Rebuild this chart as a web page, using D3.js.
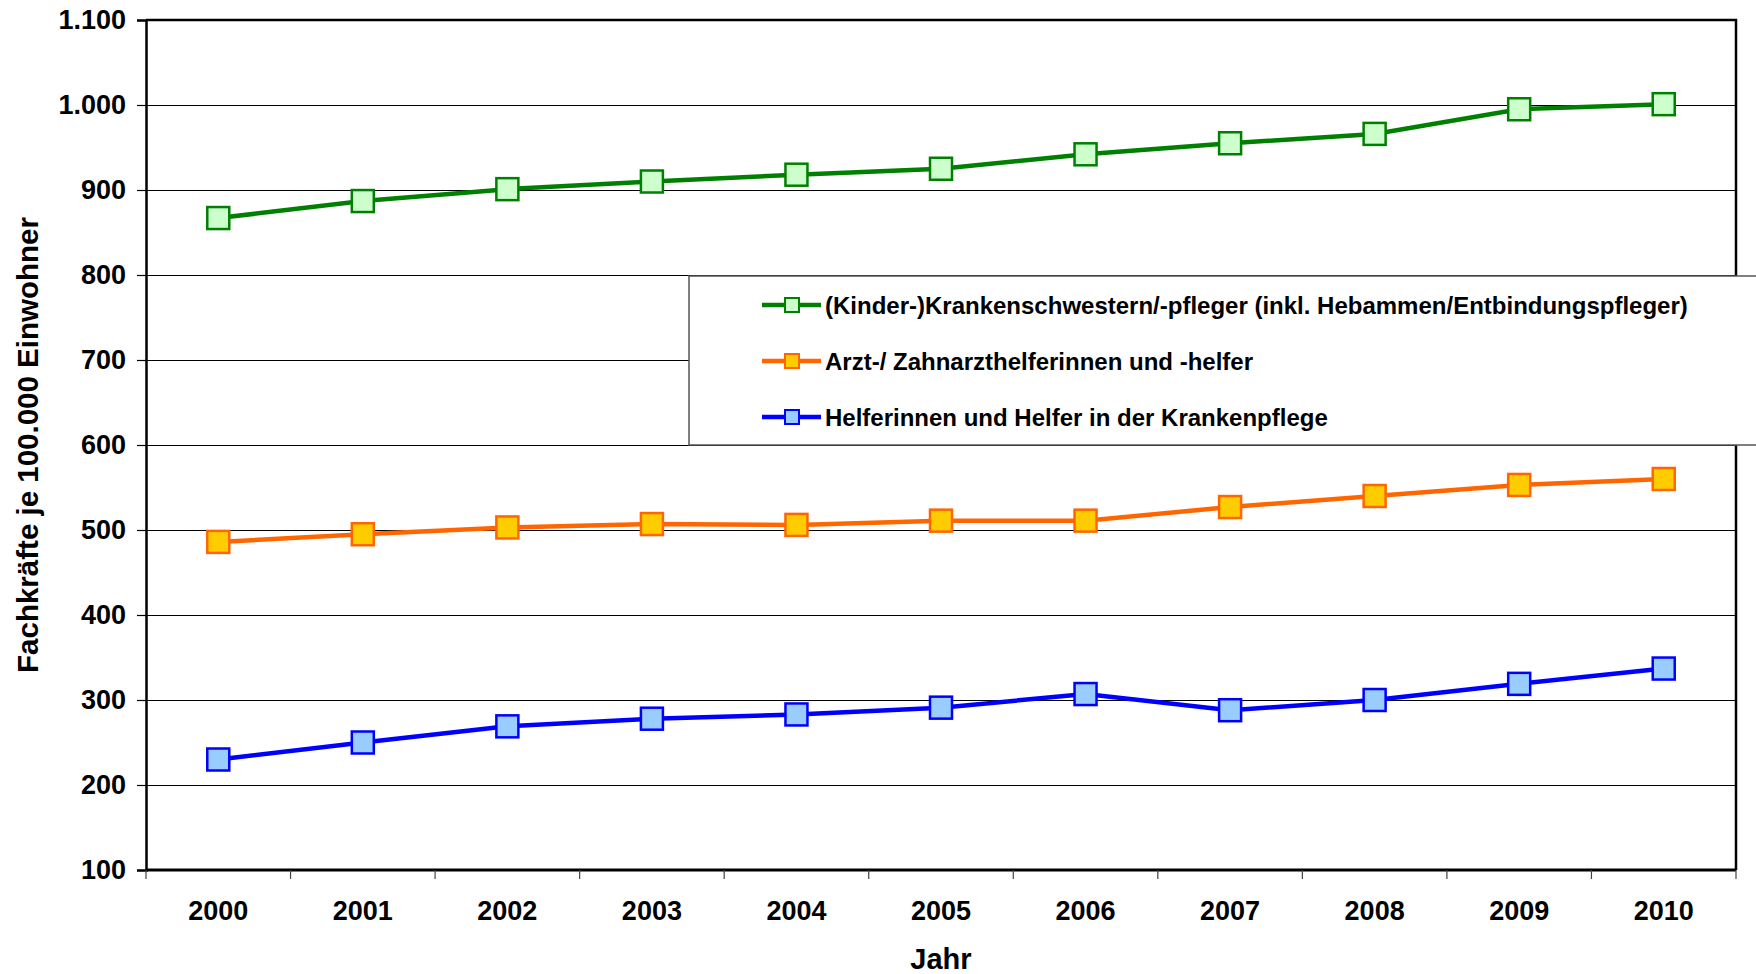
<!DOCTYPE html>
<html>
<head>
<meta charset="utf-8">
<script src="https://cdn.jsdelivr.net/npm/d3@7"></script>
<style>
  body { margin: 0; background: #fff; }
  svg { display: block; font-family: "Liberation Sans", Arial, sans-serif; font-weight: bold; }
</style>
</head>
<body>
<div id="chart"></div>
<script>
// Jahre und Werte je 100.000 Einwohner
const years = ['2000', '2001', '2002', '2003', '2004', '2005', '2006', '2007', '2008', '2009', '2010'];
const pflegeValues = [867, 887, 901, 910, 918, 925, 942, 955, 966, 995, 1001];
const arztValues = [486, 495, 503, 507, 506, 511, 511, 527, 540, 553, 560];
const helferValues = [230, 250, 269, 278, 283, 291, 307, 288, 300, 319, 337];
const yTicks = [100, 200, 300, 400, 500, 600, 700, 800, 900, 1000, 1100];

const seriesNames = [
    '(Kinder-)Krankenschwestern/-pfleger (inkl. Hebammen/Entbindungspfleger)',
    'Arzt-/ Zahnarzthelferinnen und -helfer',
    'Helferinnen und Helfer in der Krankenpflege'
];

const series = [
    { name: seriesNames[0], values: pflegeValues, line: '#008000', fill: '#ccffcc' },
    { name: seriesNames[1], values: arztValues, line: '#ff6600', fill: '#ffcc00' },
    { name: seriesNames[2], values: helferValues, line: '#0000ff', fill: '#99ccff' }
];

const width = 1756;
const height = 974;
const margin = { top: 20, right: 20, bottom: 104, left: 146 };
const plotW = width - margin.left - margin.right;
const plotH = height - margin.top - margin.bottom;

const svg = d3.select('#chart')
    .append('svg')
    .attr('width', width)
    .attr('height', height);

const x = d3.scaleBand()
    .domain(years)
    .range([0, plotW]);

const y = d3.scaleLinear()
    .domain([100, 1100])
    .range([plotH, 0]);

const g = svg.append('g')
    .attr('transform', `translate(${margin.left},${margin.top})`);

// Gitterlinien
g.append('g')
    .selectAll('line')
    .data(yTicks.slice(1, -1))
    .enter()
    .append('line')
    .attr('x1', 0)
    .attr('x2', plotW)
    .attr('y1', d => Math.round(y(d)) + 0.5)
    .attr('y2', d => Math.round(y(d)) + 0.5)
    .style('stroke', '#000')
    .style('stroke-width', 1.2);

// Rahmen oben und rechts
g.append('path')
    .attr('d', `M0,0H${plotW}V${plotH}`)
    .style('fill', 'none')
    .style('stroke', '#000')
    .style('stroke-width', 2.5);

// Y-Achse
const yAxis = g.append('g')
    .call(d3.axisLeft(y)
        .tickValues(yTicks)
        .tickSize(9)
        .tickPadding(11)
        .tickFormat(d => d3.format(',')(d).replace(',', '.')));
yAxis.select('.domain').style('stroke-width', 2.5);
yAxis.selectAll('.tick line').style('stroke-width', 1.2);
yAxis.selectAll('text')
    .style('font-size', '27px')
    .style('font-weight', 'bold')
    .style('font-family', '"Liberation Sans", Arial, sans-serif')
    .style('fill', '#000');

// X-Achse mit Strichen zwischen den Kategorien
const xAxis = g.append('g')
    .attr('transform', `translate(0,${plotH})`);
xAxis.append('line')
    .attr('x1', 0)
    .attr('x2', plotW)
    .style('stroke', '#000')
    .style('stroke-width', 3);
xAxis.selectAll('.tk')
    .data(d3.range(years.length + 1))
    .enter()
    .append('line')
    .attr('class', 'tk')
    .attr('x1', i => i * x.bandwidth())
    .attr('x2', i => i * x.bandwidth())
    .attr('y1', 0)
    .attr('y2', 9)
    .style('stroke', '#444')
    .style('stroke-width', 1.2);
xAxis.selectAll('.lbl')
    .data(years)
    .enter()
    .append('text')
    .attr('class', 'lbl')
    .attr('x', d => x(d) + x.bandwidth() / 2)
    .attr('y', 50)
    .attr('text-anchor', 'middle')
    .style('font-size', '27px')
    .text(d => d);

// Achsentitel
svg.append('text')
    .attr('x', margin.left + plotW / 2)
    .attr('y', 969)
    .attr('text-anchor', 'middle')
    .style('font-size', '29px')
    .text('Jahr');

svg.append('text')
    .attr('transform', `translate(38,${margin.top + plotH / 2}) rotate(-90)`)
    .attr('text-anchor', 'middle')
    .style('font-size', '29.5px')
    .text('Fachkräfte je 100.000 Einwohner');

// Legende
const legend = svg.append('g')
    .attr('transform', 'translate(689,276)');
legend.append('rect')
    .attr('width', 1200)
    .attr('height', 169)
    .style('fill', '#fff')
    .style('stroke', '#555')
    .style('stroke-width', 1.5);

const marker = 22;

// Linien und Punkte
const line = d3.line()
    .x((d, i) => x(years[i]) + x.bandwidth() / 2)
    .y(d => y(d));

series.forEach(s => {
    g.append('path')
        .datum(s.values)
        .attr('d', line)
        .style('fill', 'none')
        .style('stroke', s.line)
        .style('stroke-width', 4.5);

    g.append('g')
        .selectAll('rect')
        .data(s.values)
        .enter()
        .append('rect')
        .attr('x', (d, i) => x(years[i]) + x.bandwidth() / 2 - marker / 2)
        .attr('y', d => y(d) - marker / 2)
        .attr('width', marker)
        .attr('height', marker)
        .style('fill', s.fill)
        .style('stroke', s.line)
        .style('stroke-width', 2.5);
});

series.forEach((s, i) => {
    const row = legend.append('g')
        .attr('transform', `translate(0,${29 + i * 56})`);
    row.append('line')
        .attr('x1', 73)
        .attr('x2', 132)
        .style('stroke', s.line)
        .style('stroke-width', 4.5);
    row.append('rect')
        .attr('x', 96)
        .attr('y', -7)
        .attr('width', 14)
        .attr('height', 14)
        .style('fill', s.fill)
        .style('stroke', s.line)
        .style('stroke-width', 2);
    row.append('text')
        .attr('x', 136)
        .attr('y', 9)
        .style('font-size', '24px')
        .text(s.name);
});
</script>
</body>
</html>
